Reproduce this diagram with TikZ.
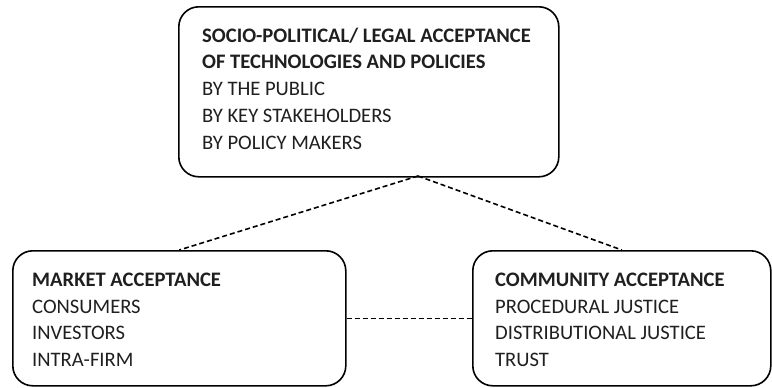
\documentclass[tikz,border=0pt]{standalone}
\usepackage{fontspec}
\setmainfont{Carlito}
\begin{document}
\begin{tikzpicture}[x=1pt,y=-1pt,
  box/.style={draw=black, line width=1.6pt, rounded corners=20pt, inner sep=0pt, anchor=north west},
  txt/.style={anchor=north west, inner sep=0pt, align=left, font=\fontsize{20.6}{26.8}\selectfont, text=black!88},
  link/.style={draw=black, line width=1.6pt, dash pattern=on 5pt off 3pt}]
\useasboundingbox (0,0) rectangle (772,388);
\node[box, minimum width=380pt, minimum height=170pt] (top) at (178,6) {};
\node[box, minimum width=333pt, minimum height=135pt] (mkt) at (12,250) {};
\node[box, minimum width=298pt, minimum height=135pt] (com) at (472,250) {};
\node[txt] (toptext) at (202,27.5) {\textbf{SOCIO-POLITICAL/ LEGAL ACCEPTANCE}\\\textbf{OF TECHNOLOGIES AND POLICIES}\\BY THE PUBLIC\\BY KEY STAKEHOLDERS\\BY POLICY MAKERS};
\node[txt] (mkttext) at (32,272.5) {\textbf{MARKET ACCEPTANCE}\\CONSUMERS\\INVESTORS\\INTRA-FIRM};
\node[txt] (comtext) at (495,272.5) {\textbf{COMMUNITY ACCEPTANCE}\\PROCEDURAL JUSTICE\\DISTRIBUTIONAL JUSTICE\\TRUST};
\coordinate (apex) at (418,176);
\draw[link] (apex) -- (mkt.north);
\draw[link] (apex) -- (com.north);
\draw[link] (mkt.east) -- (com.west);
\end{tikzpicture}
\end{document}
